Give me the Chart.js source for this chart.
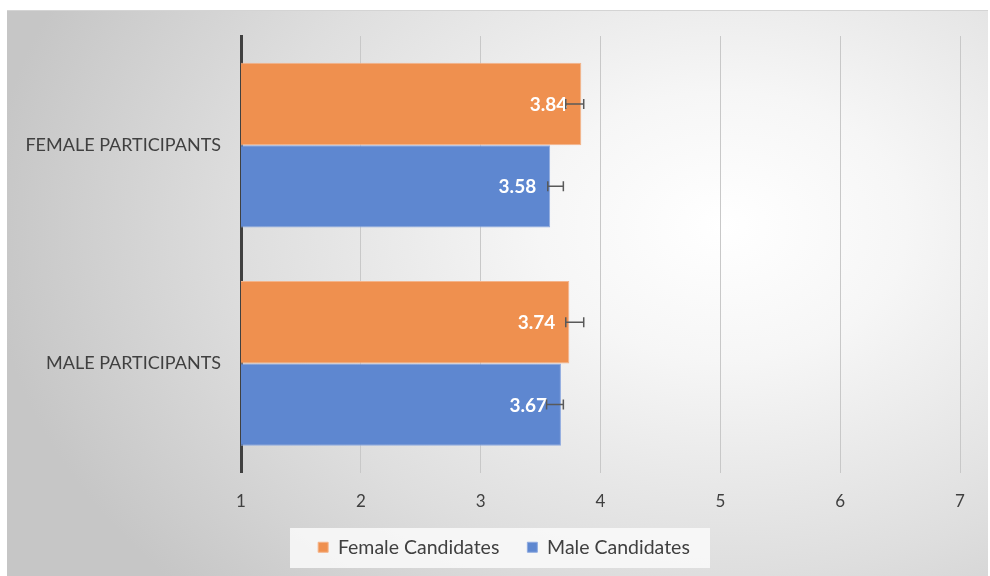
<!DOCTYPE html>
<html><head><meta charset="utf-8">
<script src="https://cdn.jsdelivr.net/npm/chart.js@4"></script>
<style>
html,body{margin:0;padding:0;background:#fff;}
#bg{position:absolute;left:7px;top:10px;width:981px;height:566px;border-top:1px solid #d4d4d4;box-sizing:border-box;
background:radial-gradient(ellipse 75% 95% at 73% 38%, #ffffff 0%, #f6f6f6 25%, #dedede 65%, #c6c6c6 100%);}
#wrap{position:absolute;left:0;top:0;width:990px;height:576px;}
</style></head>
<body>
<div id="bg"></div>
<div id="wrap"><canvas id="c" width="990" height="576"></canvas></div>
<script>
const categories = ["FEMALE PARTICIPANTS", "MALE PARTICIPANTS"];
const seriesNames = ["Female Candidates", "Male Candidates"];
const femaleCandidates = [3.84, 3.74];
const maleCandidates = [3.58, 3.67];
const femaleErrLow = [3.71, 3.71];
const femaleErrHigh = [3.86, 3.86];
const maleErrLow = [3.56, 3.55];
const maleErrHigh = [3.69, 3.69];
const xTicks = [1, 2, 3, 4, 5, 6, 7];

const FONT = "Lato, 'Open Sans', sans-serif";
const errors = [[femaleErrLow, femaleErrHigh], [maleErrLow, maleErrHigh]];

const overlay = {
  id: 'overlay',
  afterLayout(chart) {
    const lg = chart.legend;
    if (lg) { lg.left = 48; lg.top += 1; lg.bottom += 1; }
  },
  beforeDraw(chart) {
    const ctx = chart.ctx;
    ctx.save();
    ctx.fillStyle = 'rgba(250,250,250,0.85)';
    ctx.fillRect(290, 528, 420, 40);
    ctx.restore();
  },
  afterDatasetsDraw(chart) {
    const ctx = chart.ctx;
    const xs = chart.scales.x;
    ctx.save();
    chart.data.datasets.forEach((ds, di) => {
      const meta = chart.getDatasetMeta(di);
      meta.data.forEach((bar, i) => {
        ctx.fillStyle = '#ffffff';
        ctx.font = "bold 19px " + FONT;
        ctx.textAlign = 'right';
        ctx.textBaseline = 'middle';
        ctx.fillText(ds.data[i].toFixed(2), bar.x - 14, bar.y + 1);
        const lo = xs.getPixelForValue(errors[di][0][i]);
        const hi = xs.getPixelForValue(errors[di][1][i]);
        ctx.strokeStyle = '#595959';
        ctx.lineWidth = 1.5;
        ctx.beginPath();
        ctx.moveTo(lo, bar.y); ctx.lineTo(hi, bar.y);
        ctx.moveTo(lo, bar.y - 5); ctx.lineTo(lo, bar.y + 5);
        ctx.moveTo(hi, bar.y - 5); ctx.lineTo(hi, bar.y + 5);
        ctx.stroke();
      });
    });
    ctx.restore();
  }
};

new Chart(document.getElementById('c'), {
  type: 'bar',
  data: {
    labels: categories,
    datasets: [
      { label: seriesNames[0], data: femaleCandidates, backgroundColor: '#EF904F', borderColor: '#f4b48a', borderWidth: 1, borderSkipped: false },
      { label: seriesNames[1], data: maleCandidates, backgroundColor: '#5E87D0', borderColor: '#8eaae0', borderWidth: 1, borderSkipped: false }
    ]
  },
  options: {
    indexAxis: 'y',
    responsive: false,
    animation: false,
    devicePixelRatio: 1,
    categoryPercentage: 0.755,
    barPercentage: 1,
    layout: { padding: { top: 36, right: 30, left: 0, bottom: 10 } },
    scales: {
      x: {
        min: 1, max: 7,
        afterBuildTicks(scale) { scale.ticks = xTicks.map(v => ({ value: v })); },
        grid: { color: '#c8c8c8', lineWidth: 1, drawTicks: false },
        border: { display: false },
        ticks: { color: '#404040', font: { family: FONT, size: 17 }, padding: 19 },
        afterFit(scale) { scale.height = 36; }
      },
      y: {
        grid: { display: false, drawTicks: false },
        border: { display: true, color: '#404040', width: 3 },
        ticks: { color: '#404040', font: { family: FONT, size: 18 }, padding: 20 },
        afterFit(scale) { scale.width = 241; }
      }
    },
    plugins: {
      legend: {
        position: 'bottom',
        labels: { color: '#404040', font: { family: FONT, size: 19.5 }, boxWidth: 10, boxHeight: 10, padding: 28 }
      },
      tooltip: { enabled: false }
    }
  },
  plugins: [overlay]
});
</script>
</body></html>
